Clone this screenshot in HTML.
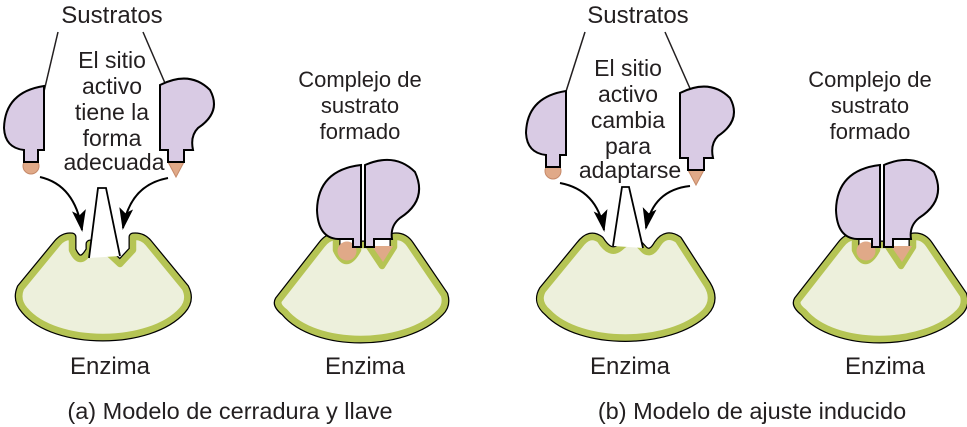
<!DOCTYPE html>
<html><head><meta charset="utf-8"><style>
html,body{margin:0;padding:0;background:#fff;}
svg{display:block;font-family:"Liberation Sans",sans-serif;}
text{fill:#231f20;text-anchor:middle;}
</style></head><body>
<svg width="967" height="427" viewBox="0 0 967 427">
<defs>
<marker id="ah" markerWidth="22" markerHeight="14" refX="20" refY="7" orient="auto" markerUnits="userSpaceOnUse" viewBox="0 0 22 14">
<path d="M0,0 L22,7 L0,14 L5,7 Z" fill="#000"/></marker>
</defs>

<!-- Panel A -->
<g>
<text x="112" y="23" font-size="24">Sustratos</text>
<line x1="58" y1="32" x2="42" y2="100" stroke="#231f20" stroke-width="1.5"/>
<line x1="143" y1="32" x2="174" y2="104" stroke="#231f20" stroke-width="1.5"/>
<g font-size="23">
<text x="112" y="68">El sitio</text><text x="112" y="94">activo</text><text x="112" y="120">tiene la</text><text x="112" y="146">forma</text><text x="114" y="170">adecuada</text>
</g>
<g>
<circle cx="31" cy="166" r="8" fill="#e0a988" stroke="#c68a6a" stroke-width="1"/>
<path d="M44,86 L44,150 L38,150 L38,162 L24,162 L24,150 Q5,148 4,128 Q5,92 44,86 Z" fill="#d9cbe4" stroke="#000" stroke-width="2"/>
</g>
<g>
<path d="M168,162 L184,162 L176,177 Z" fill="#e0a988" stroke="#c68a6a" stroke-width="1"/>
<path d="M160,85 Q190,70 210,90 Q222,112 198,128 Q190,136 193,150 L184,150 L184,162 L168,162 L168,150 L160,150 Z" fill="#d9cbe4" stroke="#000" stroke-width="2"/>
</g>
<path d="M40,177 Q75,185 82,230" fill="none" stroke="#000" stroke-width="2" marker-end="url(#ah)"/>
<path d="M168,178 Q130,185 123,228" fill="none" stroke="#000" stroke-width="2" marker-end="url(#ah)"/>
<g>
<path d="M21,288 L58,243 Q64,236 72,237 L72,250 Q80,268 90,250 L90,244 L105,244 L105,250 L120,264 L133,250 L133,237 Q142,236 148,243 L185,288 Q191,300 182,310 C150,346 55,346 25,310 Q16,300 21,288 Z" fill="#edf0dc" stroke="#000" stroke-width="9" stroke-linejoin="round"/>
<path d="M21,288 L58,243 Q64,236 72,237 L72,250 Q80,268 90,250 L90,244 L105,244 L105,250 L120,264 L133,250 L133,237 Q142,236 148,243 L185,288 Q191,300 182,310 C150,346 55,346 25,310 Q16,300 21,288 Z" fill="#edf0dc" stroke="#b5c454" stroke-width="6.5" stroke-linejoin="round"/>
</g>
<path d="M89,258 L98,188 L106,188 L120,256" fill="#fff" stroke="#000" stroke-width="1.8"/>
<text x="110" y="374" font-size="24">Enzima</text>

<g font-size="22">
<text x="360" y="87">Complejo de</text><text x="360" y="113">sustrato</text><text x="360" y="139">formado</text>
</g>
<g>
<path d="M279,300 L322,245 Q328,237 336,237 L336,250 Q346,272 358,250 L358,245 L368,245 L382,266 L394,247 L394,237 Q404,236 410,245 L444,295 Q447,305 440,312 C405,348 315,348 285,312 Q276,305 279,300 Z" fill="none" stroke="#000" stroke-width="9" stroke-linejoin="round"/>
<path d="M279,300 L322,245 Q328,237 336,237 L336,250 Q346,272 358,250 L358,245 L368,245 L382,266 L394,247 L394,237 Q404,236 410,245 L444,295 Q447,305 440,312 C405,348 315,348 285,312 Q276,305 279,300 Z" fill="#edf0dc" stroke="#b5c454" stroke-width="6.5" stroke-linejoin="round"/>
<circle cx="347" cy="251" r="9.5" fill="#e0a988"/>
<path d="M372,246 L393,246 L383,262 Z" fill="#e0a988"/>
<path d="M361,165 L361,247 L353,247 L353,239 L338,239 Q318,238 317,210 Q318,170 361,165 Z" fill="#d9cbe4" stroke="#000" stroke-width="2"/>
<path d="M365,165 Q395,152 415,172 Q428,200 400,218 Q390,226 392,239 L374,239 L374,247 L365,247 Z" fill="#d9cbe4" stroke="#000" stroke-width="2"/>
</g>
<text x="365" y="374" font-size="24">Enzima</text>
<text x="230" y="419" font-size="23.5">(a) Modelo de cerradura y llave</text>
</g>

<!-- Panel B -->
<g>
<text x="638" y="23" font-size="24">Sustratos</text>
<line x1="585" y1="32" x2="562" y2="104" stroke="#231f20" stroke-width="1.5"/>
<line x1="665" y1="32" x2="696" y2="102" stroke="#231f20" stroke-width="1.5"/>
<g font-size="23">
<text x="628" y="76">El sitio</text><text x="628" y="102">activo</text><text x="628" y="128">cambia</text><text x="628" y="154">para</text><text x="630" y="178">adaptarse</text>
</g>
<g transform="translate(522,5)">
<circle cx="31" cy="166" r="8" fill="#e0a988" stroke="#c68a6a" stroke-width="1"/>
<path d="M44,86 L44,150 L38,150 L38,162 L24,162 L24,150 Q5,148 4,128 Q5,92 44,86 Z" fill="#d9cbe4" stroke="#000" stroke-width="2"/>
</g>
<g transform="translate(520,8)">
<path d="M168,162 L184,162 L176,177 Z" fill="#e0a988" stroke="#c68a6a" stroke-width="1"/>
<path d="M160,85 Q190,70 210,90 Q222,112 198,128 Q190,136 193,150 L184,150 L184,162 L168,162 L168,150 L160,150 Z" fill="#d9cbe4" stroke="#000" stroke-width="2"/>
</g>
<path d="M560,183 Q597,190 604,230" fill="none" stroke="#000" stroke-width="2" marker-end="url(#ah)"/>
<path d="M690,186 Q653,190 646,228" fill="none" stroke="#000" stroke-width="2" marker-end="url(#ah)"/>
<g>
<path d="M543,290 L580,245 Q590,232 600,240 Q610,256 620,248 Q632,236 642,248 Q650,258 658,244 Q666,232 678,240 L707,285 Q716,300 705,312 C670,346 580,346 548,312 Q536,302 543,290 Z" fill="#edf0dc" stroke="#000" stroke-width="9" stroke-linejoin="round"/>
<path d="M543,290 L580,245 Q590,232 600,240 Q610,256 620,248 Q632,236 642,248 Q650,258 658,244 Q666,232 678,240 L707,285 Q716,300 705,312 C670,346 580,346 548,312 Q536,302 543,290 Z" fill="#edf0dc" stroke="#b5c454" stroke-width="6.5" stroke-linejoin="round"/>
</g>
<path d="M613,246 L622,187 L629,187 L643,248" fill="#fff" stroke="#000" stroke-width="1.8"/>
<text x="630" y="374" font-size="24">Enzima</text>

<g font-size="22">
<text x="870" y="87">Complejo de</text><text x="870" y="113">sustrato</text><text x="870" y="139">formado</text>
</g>
<g transform="translate(519,0)">
<path d="M279,300 L322,245 Q328,237 336,237 L336,250 Q346,272 358,250 L358,245 L368,245 L382,266 L394,247 L394,237 Q404,236 410,245 L444,295 Q447,305 440,312 C405,348 315,348 285,312 Q276,305 279,300 Z" fill="none" stroke="#000" stroke-width="9" stroke-linejoin="round"/>
<path d="M279,300 L322,245 Q328,237 336,237 L336,250 Q346,272 358,250 L358,245 L368,245 L382,266 L394,247 L394,237 Q404,236 410,245 L444,295 Q447,305 440,312 C405,348 315,348 285,312 Q276,305 279,300 Z" fill="#edf0dc" stroke="#b5c454" stroke-width="6.5" stroke-linejoin="round"/>
<circle cx="347" cy="251" r="9.5" fill="#e0a988"/>
<path d="M372,246 L393,246 L383,262 Z" fill="#e0a988"/>
<path d="M361,165 L361,247 L353,247 L353,239 L338,239 Q318,238 317,210 Q318,170 361,165 Z" fill="#d9cbe4" stroke="#000" stroke-width="2"/>
<path d="M365,165 Q395,152 415,172 Q428,200 400,218 Q390,226 392,239 L374,239 L374,247 L365,247 Z" fill="#d9cbe4" stroke="#000" stroke-width="2"/>
</g>
<text x="885" y="374" font-size="24">Enzima</text>
<text x="752" y="419" font-size="23.5">(b) Modelo de ajuste inducido</text>
</g>
</svg>
</body></html>
